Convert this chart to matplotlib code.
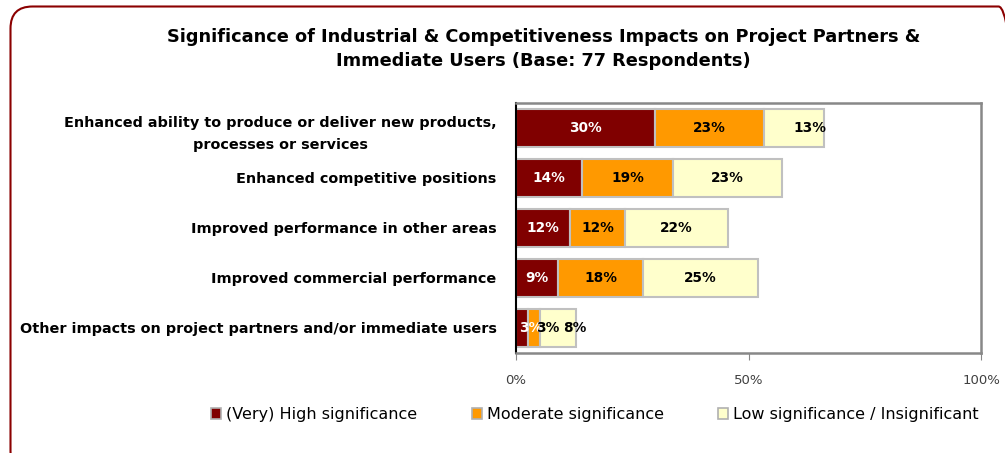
import numpy as np
import matplotlib.pyplot as plt
import matplotlib.patches as mpatches
from matplotlib.transforms import IdentityTransform

categories = [
    "Enhanced ability to produce or deliver new products,\nprocesses or services",
    "Enhanced competitive positions",
    "Improved performance in other areas",
    "Improved commercial performance",
    "Other impacts on project partners and/or immediate users",
]
high = [29.9, 14.3, 11.7, 9.1, 2.6]
moderate = [23.4, 19.4, 11.7, 18.2, 2.6]
low = [13.0, 23.4, 22.1, 24.7, 7.8]
series_names = ["(Very) High significance", "Moderate significance",
                "Low significance / Insignificant"]
colors = ["#800000", "#FF9900", "#FFFFCC"]
text_colors = ["white", "black", "black"]

# nudges where excel moved labels to avoid overlap (row, series) -> % shift
nudge = {(0, 2): 3.5, (4, 0): 1.8, (4, 1): 3.0, (4, 2): 3.5}

fig = plt.figure(figsize=(10.05, 4.53), dpi=100)
ax = fig.add_axes([516 / 1005, 100 / 453, 465 / 1005, 250 / 453])

y = np.arange(len(categories))
left = np.zeros(len(categories))
for s, vals in enumerate([high, moderate, low]):
    ax.barh(y, vals, left=left, height=0.76, color=colors[s],
            edgecolor="#C0C0C0", linewidth=1.5, label=series_names[s])
    for i, v in enumerate(vals):
        xc = left[i] + v / 2 + nudge.get((i, s), 0)
        ax.text(xc, y[i], "%d%%" % round(v), ha="center", va="center",
                fontsize=9.8, fontweight="bold", color=text_colors[s])
    left = left + np.array(vals)

ax.set_xlim(0, 100)
ax.set_ylim(len(categories) - 0.5, -0.5)
ax.set_xticks([0, 50, 100])
ax.set_xticklabels(["0%", "50%", "100%"], fontsize=9.5, color="#404040")
ax.tick_params(axis="x", length=5, color="#888888", pad=10)
ax.set_yticks(y)
ax.set_yticklabels(categories, fontsize=10.4, fontweight="bold",
                   multialignment="center")
for lbl in ax.get_yticklabels():
    lbl.set_linespacing(1.75)
ax.tick_params(axis="y", length=0, pad=14)
for side in ["top", "right", "bottom"]:
    ax.spines[side].set_color("#888888")
    ax.spines[side].set_linewidth(1.8)
ax.spines["left"].set_color("black")
ax.spines["left"].set_linewidth(1.5)

fig.text(0.541, 0.892, "Significance of Industrial & Competitiveness Impacts on Project Partners &\nImmediate Users (Base: 77 Respondents)",
         ha="center", va="center", fontsize=12.8, fontweight="bold",
         linespacing=1.45)

handles = [mpatches.Patch(facecolor=c, edgecolor="#B0B0B0", linewidth=1.2) for c in colors]
fig.legend(handles, series_names, loc="center", bbox_to_anchor=(0.592, 0.085),
           ncol=3, frameon=False, prop={"family": "DejaVu Sans", "size": 11.5},
           handlelength=0.65, handleheight=0.65, handletextpad=0.3, columnspacing=3.4)

border = mpatches.FancyBboxPatch((10.5, -20), 1010, 466.5,
                                 boxstyle="round,pad=0,rounding_size=22",
                                 transform=IdentityTransform(), facecolor="none",
                                 edgecolor="#8B0000", linewidth=1.5)
fig.patches.append(border)

fig.savefig("out.png", dpi=100)
